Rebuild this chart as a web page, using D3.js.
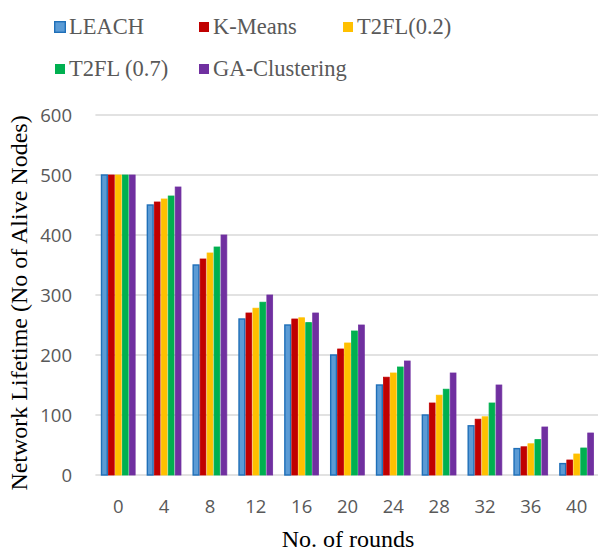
<!DOCTYPE html>
<html>
<head>
<meta charset="utf-8">
<script src="https://cdn.jsdelivr.net/npm/d3@7"></script>
<style>
  html, body { margin: 0; padding: 0; background: #fff; }
  svg { display: block; }
  .serif { font-family: "Liberation Serif", "Times New Roman", Times, "DejaVu Serif", serif; }
  .sans { font-family: "Open Sans", "Liberation Sans", sans-serif; }
</style>
</head>
<body>
<svg id="chart" width="598" height="552"></svg>
<script>
// Rounds on the x axis
const rounds = ["0", "4", "8", "12", "16", "20", "24", "28", "32", "36", "40"];

// Series names
const seriesNames = ["LEACH", "K-Means", "T2FL(0.2)", "T2FL (0.7)", "GA-Clustering"];

// Alive nodes per round for each protocol
const leach        = [500, 450, 350, 260, 250, 200, 150, 100, 82, 44, 19];
const kMeans       = [500, 455, 360, 270, 260, 210, 163, 120, 93, 47, 25];
const t2fl02       = [500, 460, 370, 278, 262, 220, 170, 133, 97, 52, 35];
const t2fl07       = [500, 465, 380, 288, 254, 240, 180, 143, 120, 59, 45];
const gaClustering = [500, 480, 400, 300, 270, 250, 190, 170, 150, 80, 70];

const yTicks = [0, 100, 200, 300, 400, 500, 600];

const seriesValues = [leach, kMeans, t2fl02, t2fl07, gaClustering];
const fills   = ["#5B9BD5", "#C00000", "#FFC000", "#00B050", "#7030A0"];
const strokes = ["#1F6FB8", "#C00000", "#FFC000", "#00B050", "#7030A0"];

const svg = d3.select("#chart");
const plot = { left: 95.4, right: 599.6, top: 115, bottom: 475 };

const x = d3.scaleBand()
  .domain(rounds)
  .range([plot.left, plot.right])
  .paddingInner(0.24)
  .paddingOuter(0.12);

const xSeries = d3.scaleBand()
  .domain(d3.range(seriesNames.length))
  .range([0, x.bandwidth()])
  .padding(0);

const y = d3.scaleLinear()
  .domain([0, 600])
  .range([plot.bottom, plot.top]);

// Horizontal gridlines
svg.append("g")
  .selectAll("line")
  .data(yTicks)
  .join("line")
  .attr("x1", plot.left)
  .attr("x2", plot.right)
  .attr("y1", d => y(d))
  .attr("y2", d => y(d))
  .attr("stroke", "#D9D9D9")
  .attr("stroke-width", 1.3);

// Y axis labels
const yAxis = d3.axisLeft(y).tickValues(yTicks).tickSize(0).tickPadding(0);
const gy = svg.append("g")
  .attr("transform", `translate(72,0)`)
  .call(yAxis)
  .attr("font-family", null)
  .attr("font-size", null);
gy.select(".domain").remove();
gy.selectAll("text")
  .attr("class", "sans")
  .attr("font-size", "18.5px")
  .attr("fill", "#595959")
  .attr("dy", "0.36em");

// X axis labels
const xAxis = d3.axisBottom(x).tickSize(0).tickPadding(0);
const gx = svg.append("g")
  .attr("transform", `translate(0,${plot.bottom})`)
  .call(xAxis)
  .attr("font-family", null)
  .attr("font-size", null);
gx.select(".domain").remove();
gx.selectAll("text")
  .attr("class", "sans")
  .attr("font-size", "18.5px")
  .attr("fill", "#595959")
  .attr("y", 0)
  .attr("dy", "38px");

// Bars
const groups = svg.append("g")
  .selectAll("g")
  .data(rounds)
  .join("g")
  .attr("transform", d => `translate(${x(d)},0)`);

groups.selectAll("rect")
  .data((d, i) => seriesValues.map((s, k) => ({ k, v: s[i] })))
  .join("rect")
  .attr("x", d => xSeries(d.k) + 0.6)
  .attr("width", xSeries.bandwidth() - 1.2)
  .attr("y", d => y(d.v))
  .attr("height", d => y(0) - y(d.v))
  .attr("fill", d => fills[d.k])
  .attr("stroke", d => strokes[d.k])
  .attr("stroke-width", d => d.k === 0 ? 1.4 : 0.8);

// Axis titles
svg.append("text")
  .attr("class", "serif")
  .attr("x", 348)
  .attr("y", 547)
  .attr("text-anchor", "middle")
  .attr("font-size", "24px")
  .attr("fill", "#000")
  .text("No. of rounds");

svg.append("text")
  .attr("class", "serif")
  .attr("transform", "translate(27,303) rotate(-90)")
  .attr("text-anchor", "middle")
  .attr("font-size", "24px")
  .attr("fill", "#000")
  .text("Network Lifetime (No of Alive Nodes)");

// Legend
const legendPos = [
  { x: 54, y: 34 }, { x: 198, y: 34 }, { x: 342, y: 34 },
  { x: 54, y: 76 }, { x: 198, y: 76 }
];
const legend = svg.append("g")
  .selectAll("g")
  .data(seriesNames)
  .join("g")
  .attr("transform", (d, i) => `translate(${legendPos[i].x},${legendPos[i].y})`);

legend.append("rect")
  .attr("x", (d, i) => i === 0 ? 0.7 : 1)
  .attr("y", (d, i) => i === 0 ? -12.3 : -12)
  .attr("width", (d, i) => i === 0 ? 10.6 : 10)
  .attr("height", (d, i) => i === 0 ? 10.6 : 10)
  .attr("fill", (d, i) => fills[i])
  .attr("stroke", (d, i) => strokes[i])
  .attr("stroke-width", (d, i) => i === 0 ? 1.4 : 0);

legend.append("text")
  .attr("class", "serif")
  .attr("x", 15)
  .attr("y", 0)
  .attr("font-size", "22.5px")
  .attr("fill", "#595959")
  .text(d => d);
</script>
</body>
</html>
